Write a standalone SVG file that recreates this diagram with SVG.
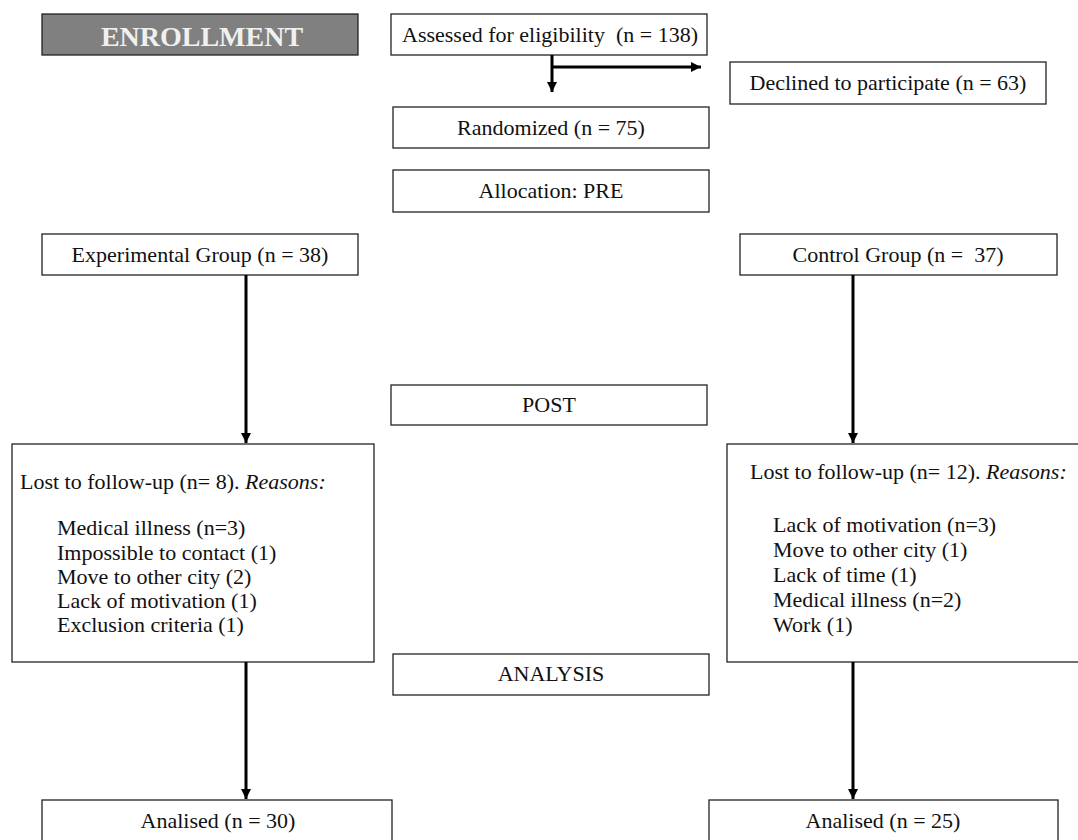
<svg xmlns="http://www.w3.org/2000/svg" width="1078" height="840" viewBox="0 0 1078 840">
<style>
.box{fill:#fff;stroke:#222;stroke-width:1.3}
.t{font-family:"Liberation Serif","Times New Roman",serif;font-size:22px;fill:#111}
.c{text-anchor:middle}
.en{font-family:"Liberation Serif","Times New Roman",serif;font-size:28px;font-weight:bold;fill:#f0f0f0;text-anchor:middle}
.conn{stroke:#000;stroke-width:3;fill:none}
</style>
<defs>
<marker id="ah" markerUnits="userSpaceOnUse" markerWidth="12" markerHeight="12" refX="10" refY="5" orient="auto">
<path d="M0,0 L10,5 L0,10 Z" fill="#000"/>
</marker>
</defs>
<rect width="1078" height="840" fill="#fff"/>
<g id="enrollment"><rect x="42" y="14" width="316" height="41" fill="#808080" stroke="#222" stroke-width="1.3"/><text class="en" x="202" y="46">ENROLLMENT</text></g>
<g id="assessed"><rect class="box" x="391" y="14" width="316" height="41"/><text class="t c" x="550" y="42" xml:space="preserve">Assessed for eligibility  (n = 138)</text></g>
<g id="declined"><rect class="box" x="730" y="62" width="316" height="42"/><text class="t c" x="888" y="90">Declined to participate (n = 63)</text></g>
<g id="randomized"><rect class="box" x="393" y="107" width="316" height="41"/><text class="t c" x="551" y="135">Randomized (n = 75)</text></g>
<g id="allocation"><rect class="box" x="393" y="170" width="316" height="42"/><text class="t c" x="551" y="198">Allocation: PRE</text></g>
<g id="experimental"><rect class="box" x="42" y="234" width="316" height="41"/><text class="t c" x="200" y="262">Experimental Group (n = 38)</text></g>
<g id="control"><rect class="box" x="740" y="234" width="317" height="41"/><text class="t c" x="898" y="262" xml:space="preserve">Control Group (n =  37)</text></g>
<g id="post"><rect class="box" x="391" y="385" width="316" height="40"/><text class="t c" x="549" y="412">POST</text></g>
<g id="lost-exp"><rect class="box" x="12" y="444" width="362" height="218"/>
<text class="t" x="20" y="489">Lost to follow-up (n= 8). <tspan font-style="italic">Reasons:</tspan></text>
<text class="t" x="57" y="535">Medical illness (n=3)</text>
<text class="t" x="57" y="560">Impossible to contact (1)</text>
<text class="t" x="57" y="584">Move to other city (2)</text>
<text class="t" x="57" y="608">Lack of motivation (1)</text>
<text class="t" x="57" y="632">Exclusion criteria (1)</text>
</g>
<g id="lost-ctrl"><rect class="box" x="727" y="444" width="360" height="218"/>
<text class="t" x="750" y="479">Lost to follow-up (n= 12). <tspan font-style="italic">Reasons:</tspan></text>
<text class="t" x="773" y="532">Lack of motivation (n=3)</text>
<text class="t" x="773" y="557">Move to other city (1)</text>
<text class="t" x="773" y="582">Lack of time (1)</text>
<text class="t" x="773" y="607">Medical illness (n=2)</text>
<text class="t" x="773" y="632">Work (1)</text>
</g>
<g id="analysis"><rect class="box" x="393" y="654" width="316" height="41"/><text class="t c" x="551" y="681">ANALYSIS</text></g>
<g id="analised-exp"><rect class="box" x="42" y="800" width="350" height="50"/><text class="t c" x="218" y="828">Analised (n = 30)</text></g>
<g id="analised-ctrl"><rect class="box" x="709" y="800" width="349" height="50"/><text class="t c" x="883" y="828">Analised (n = 25)</text></g>
<g id="connectors">
<line class="conn" x1="552" y1="55" x2="552" y2="92" marker-end="url(#ah)"/>
<line class="conn" x1="552" y1="67" x2="701" y2="67" marker-end="url(#ah)"/>
<line class="conn" x1="246" y1="275" x2="246" y2="443" marker-end="url(#ah)"/>
<line class="conn" x1="853" y1="275" x2="853" y2="443" marker-end="url(#ah)"/>
<line class="conn" x1="246" y1="662" x2="246" y2="799" marker-end="url(#ah)"/>
<line class="conn" x1="853" y1="662" x2="853" y2="799" marker-end="url(#ah)"/>
</g>
</svg>
